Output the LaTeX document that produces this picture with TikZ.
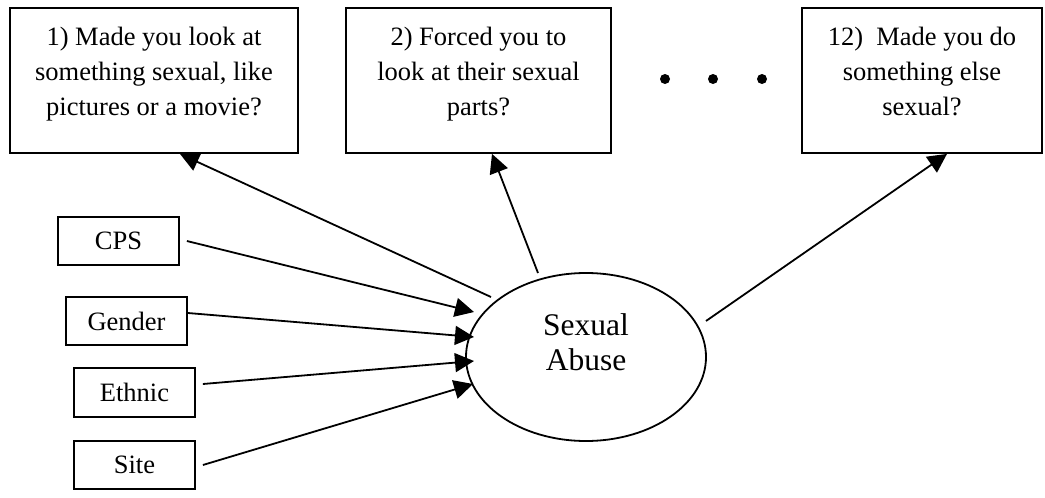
\documentclass[tikz,border=0pt]{standalone}
\usepackage{fontspec}
\setmainfont{Liberation Serif}
\usetikzlibrary{arrows.meta,shapes.geometric,calc}
\begin{document}
\begin{tikzpicture}[x=1pt,y=-1pt,
  line width=1.8pt,
  qbox/.style={draw,rectangle,minimum width=#1,minimum height=145pt,inner sep=0pt},
  qtext/.style={anchor=north,inner sep=0pt,align=center,font=\fontsize{26.5}{35}\selectfont},
  vbox/.style={draw,rectangle,minimum width=121pt,minimum height=48pt,inner sep=0pt,font=\fontsize{26.5}{35}\selectfont},
  lat/.style={draw,ellipse,minimum width=240pt,minimum height=168pt,inner sep=0pt},
  lattext/.style={inner sep=0pt,align=center,font=\fontsize{31.5}{35}\selectfont},
  dotn/.style={circle,fill=black,inner sep=0pt,minimum size=10pt},
  arr/.style={-{Triangle[length=19pt,width=19pt]}}]
\useasboundingbox (0,0) rectangle (1045,498);
% question boxes
\node[qbox=288pt] (b1) at (154,80.5) {};
\node[qbox=265pt] (b2) at (478.5,80.5) {};
\node[qbox=240pt] (b3) at (922,80.5) {};
\node[qtext] (b1t) at ([yshift=-19]b1.north) {1) Made you look at\\something sexual, like\\pictures or a movie?};
\node[qtext] (b2t) at ([yshift=-19]b2.north) {2) Forced you to\\look at their sexual\\parts?};
\node[qtext] (b3t) at ([yshift=-19]b3.north) {12)\ \ Made you do\\something else\\sexual?};
% dots
\node[dotn] (d1) at (665,79) {};
\node[dotn] (d2) at (713,79) {};
\node[dotn] (d3) at (762,79) {};
% covariates
\node[vbox] (cps) at (118.5,241) {CPS};
\node[vbox] (gen) at (126.5,321) {Gender};
\node[vbox,minimum height=49pt] (eth) at (134.5,392.5) {Ethnic};
\node[vbox] (site) at (134.5,465) {Site};
% latent
\node[lat] (e) at (586,357) {};
\node[lattext] (et) at ([yshift=14.5]e.center) {Sexual\\Abuse};
% connector ends
\coordinate (t1) at ($(e.center)+(-95,-60)$);
\coordinate (t2) at ($(e.center)+(-48,-84)$);
\coordinate (t3) at ($(e.center)+(120,-36)$);
\coordinate (h1) at ([xshift=26]b1.south);
\coordinate (h2) at ([xshift=13.5]b2.south);
\coordinate (h3) at ([xshift=25]b3.south);
\coordinate (s1) at ([xshift=7]cps.east);
\coordinate (s2) at ([yshift=8]gen.east);
\coordinate (s3) at ([xshift=7,yshift=8.5]eth.east);
\coordinate (s4) at ([xshift=7]site.east);
\coordinate (p1) at ($(e.center)+(-112,-45)$);
\coordinate (p2) at ($(e.center)+(-112,-20)$);
\coordinate (p3) at ($(e.center)+(-112,4)$);
\coordinate (p4) at ($(e.center)+(-113,27)$);
% arrows
\draw[arr] (t1) -- (h1);
\draw[arr] (t2) -- (h2);
\draw[arr] (t3) -- (h3);
\draw[arr] (s1) -- (p1);
\draw[arr] (s2) -- (p2);
\draw[arr] (s3) -- (p3);
\draw[arr] (s4) -- (p4);
\end{tikzpicture}
\end{document}
